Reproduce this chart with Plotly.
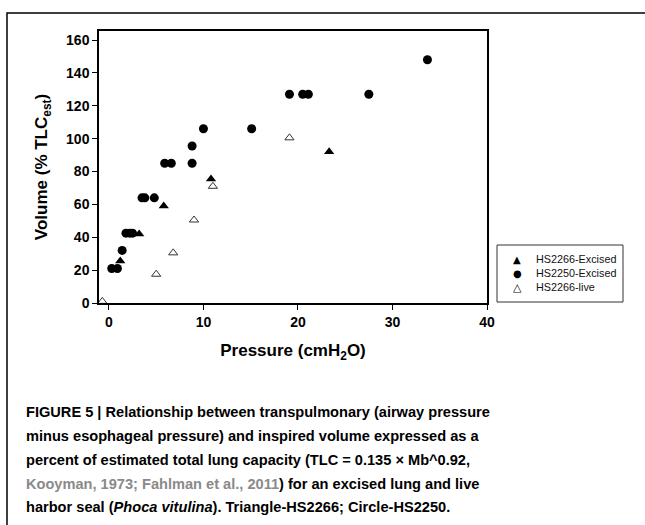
import plotly.graph_objects as go

# HS2266-Excised (filled triangles)
exc66_p = [1.2, 3.2, 5.8, 10.8, 23.3]
exc66_v = [25.5, 42, 59, 75.5, 92]
# HS2250-Excised (filled circles)
exc50_p = [0.3, 0.9, 1.4, 1.8, 2.2, 2.5, 3.5, 3.8, 4.8, 5.9, 6.6, 8.8, 8.8, 10.0, 15.1, 19.1, 20.5, 21.1, 27.5, 33.7]
exc50_v = [21, 21, 32, 42.5, 42.5, 42.5, 64, 64, 64, 85, 85, 85, 95.5, 106, 106, 127, 127, 127, 127, 148]
# HS2266-live (open triangles)
live66_p = [-0.7, 5.0, 6.8, 9.0, 11.0, 19.1]
live66_v = [1, 17.5, 30.5, 50.5, 71, 100.5]

series_names = ["HS2266-Excised", "HS2250-Excised", "HS2266-live"]
legend_glyphs = ["▲", "●", "△"]

x_ticks = [0, 10, 20, 30, 40]
y_ticks = [0, 20, 40, 60, 80, 100, 120, 140, 160]

# plot-area pixel geometry
L, R, T, B, W, H = 99, 487, 31, 303, 645, 525
def px(x):
    return (x - L) / (R - L)
def py(y):
    return (B - y) / (B - T)

fig = go.Figure()
fig.add_trace(go.Scatter(x=exc66_p, y=exc66_v, mode="markers", name=series_names[0],
                         marker=dict(symbol="triangle-up", size=9, color="black")))
fig.add_trace(go.Scatter(x=exc50_p, y=exc50_v, mode="markers", name=series_names[1],
                         marker=dict(symbol="circle", size=9, color="black")))
fig.add_trace(go.Scatter(x=live66_p, y=live66_v, mode="markers", name=series_names[2],
                         marker=dict(symbol="triangle-up-open", size=8, color="#333",
                                     line=dict(width=1))))

fam = "Liberation Sans, Arial, sans-serif"
tick_font = dict(family=fam, size=14, color="black", weight="bold")
title_font = dict(family=fam, size=17, color="black", weight="bold")
fig.update_xaxes(range=[-1.05, 40], tickvals=x_ticks, ticks="outside", ticklen=5,
                 tickcolor="black", showline=True, linecolor="black", linewidth=1.5,
                 mirror=True, showgrid=False, zeroline=False, tickfont=tick_font,
                 title=dict(text="Pressure (cmH<sub>2</sub>O)", font=title_font, standoff=16))
fig.update_yaxes(range=[0, 165.5], tickvals=y_ticks, ticks="outside", ticklen=5,
                 tickcolor="black", showline=True, linecolor="black", linewidth=1.5,
                 mirror=True, showgrid=False, zeroline=False, tickfont=tick_font,
                 title=dict(text="Volume (% TLC<sub>est</sub>)", font=title_font, standoff=14))

# custom legend (compact, as in the reference)
fig.add_shape(type="rect", xref="paper", yref="paper",
              x0=px(497), x1=px(623), y0=py(302), y1=py(245),
              line=dict(color="#333", width=1), fillcolor="white")
for i, (g, n) in enumerate(zip(legend_glyphs, series_names)):
    yy = 259 + 14 * i
    fig.add_annotation(text=g, xref="paper", yref="paper", x=px(517), y=py(yy),
                       xanchor="center", yanchor="middle", showarrow=False,
                       font=dict(family="DejaVu Sans, sans-serif", size=10 if i != 2 else 11,
                                 color="black"))
    fig.add_annotation(text=n, xref="paper", yref="paper", x=px(534), y=py(yy),
                       xanchor="left", yanchor="middle", showarrow=False,
                       font=dict(family=fam, size=10.8, color="#111"))

cap_font = dict(family=fam, size=14.6, color="black")
lines = [
    "<b>FIGURE 5 | Relationship between transpulmonary (airway pressure</b>",
    "<b>minus esophageal pressure) and inspired volume expressed as a</b>",
    "<b>percent of estimated total lung capacity (TLC = 0.135 × Mb^0.92,</b>",
    "<b><span style='color:#8a8a8a'>Kooyman, 1973; Fahlman et al., 2011</span>) for an excised lung and live</b>",
    "<b>harbor seal (<i>Phoca vitulina</i>). Triangle-HS2266; Circle-HS2250.</b>",
]
ys = [412, 436, 460, 484, 507]
for t, yy in zip(lines, ys):
    fig.add_annotation(text=t, xref="paper", yref="paper", x=px(24), y=py(yy),
                       xanchor="left", yanchor="middle", showarrow=False, font=cap_font)

# outer frame (left and top edges)
fig.add_shape(type="path", xref="paper", yref="paper",
              path="M %f,%f L %f,%f L %f,%f" % (px(7), py(530), px(7), py(13), px(650), py(13)),
              line=dict(color="black", width=1.5))

fig.update_layout(
    width=W, height=H,
    margin=dict(l=L, r=W - R, t=T, b=H - B, autoexpand=False),
    plot_bgcolor="white", paper_bgcolor="white",
    showlegend=False,
)
fig.write_html("out.html", config={"displayModeBar": False},
               post_script="document.body.style.margin='0px';")
